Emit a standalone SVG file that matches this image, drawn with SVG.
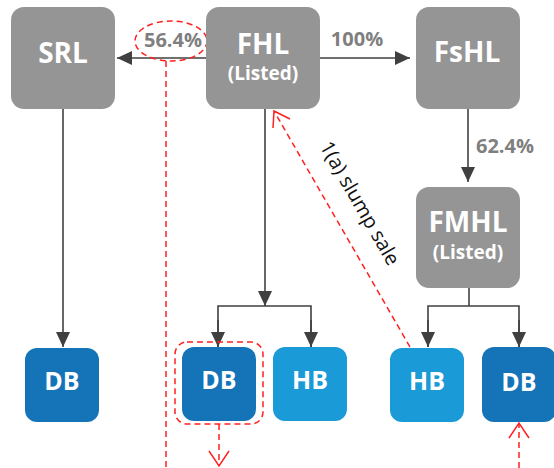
<svg xmlns="http://www.w3.org/2000/svg" width="554" height="468" viewBox="0 0 554 468">
<style>
.g{fill:#959595}
.db{fill:#1574b8}
.hb{fill:#1a9ad6}
.t{font-family:"Open Sans","Noto Sans",sans-serif;font-weight:bold;fill:#fff;text-anchor:middle}
.big{font-size:28px}
.sm{font-size:19px}
.box{font-size:25px}
.pct{font-family:"Open Sans","Noto Sans",sans-serif;font-weight:bold;fill:#7f7f7f;font-size:20px;text-anchor:middle}
.ln{stroke:#404040;stroke-width:1.6;fill:none}
.rd{stroke:#ff2020;stroke-width:1.5;fill:none;stroke-dasharray:6 4}
.ra{stroke:#ff2020;stroke-width:1.5;fill:none}
</style>
<defs>
<marker id="ah" markerWidth="16" markerHeight="14" refX="15" refY="7" orient="auto" markerUnits="userSpaceOnUse">
<path d="M0,0 L15,7 L0,14 Z" fill="#404040"/>
</marker>
</defs>
<g id="connectors">
<line class="ln" x1="206" y1="58" x2="117" y2="58" marker-end="url(#ah)"/>
<line class="ln" x1="320" y1="58" x2="410" y2="58" marker-end="url(#ah)"/>
<line class="ln" x1="468" y1="109" x2="468" y2="182" marker-end="url(#ah)"/>
<line class="ln" x1="63" y1="109" x2="63" y2="347" marker-end="url(#ah)"/>
<line class="ln" x1="265" y1="109" x2="265" y2="306" marker-end="url(#ah)"/>
<polyline class="ln" points="218,347 218,306 311,306 311,347"/>
<line class="ln" x1="218" y1="320" x2="218" y2="347" marker-end="url(#ah)"/>
<line class="ln" x1="311" y1="320" x2="311" y2="347" marker-end="url(#ah)"/>
<line class="ln" x1="469" y1="288" x2="469" y2="306"/>
<polyline class="ln" points="428,347 428,306 519,306 519,347"/>
<line class="ln" x1="428" y1="320" x2="428" y2="347" marker-end="url(#ah)"/>
<line class="ln" x1="519" y1="320" x2="519" y2="347" marker-end="url(#ah)"/>
<text class="pct" x="357" y="46">100%</text>
<text class="pct" x="173" y="47">56.4%</text>
<text class="pct" x="505" y="153">62.4%</text>
</g>
<g id="annotations">
<ellipse class="rd" cx="171" cy="41" rx="36" ry="20"/>
<line class="rd" x1="166" y1="61" x2="166" y2="468"/>
<line class="rd" x1="410" y1="347" x2="274" y2="111"/>
<polyline class="ra" points="273,128 274,111 290,119"/>
<text x="0" y="0" transform="translate(353,207) rotate(60.1)" font-family="'Open Sans','Noto Sans',sans-serif" font-size="20" fill="#111" text-anchor="middle" dy="-1">1(a) slump sale</text>
<rect class="rd" x="175" y="342" width="88" height="82" rx="12"/>
<line class="rd" x1="219" y1="424" x2="219" y2="465"/>
<polyline class="ra" points="209,451 219,466 229,451"/>
<line class="rd" x1="519" y1="468" x2="519" y2="424"/>
<polyline class="ra" points="509,438 519,423 529,438"/>
</g>
<g id="SRL"><rect class="g" x="11" y="7" width="104" height="102" rx="13"/><text class="t big" x="63" y="63">SRL</text></g>
<g id="FHL"><rect class="g" x="206" y="7" width="114" height="102" rx="13"/><text class="t big" x="263" y="54">FHL</text><text class="t sm" x="263" y="80">(Listed)</text></g>
<g id="FsHL"><rect class="g" x="416" y="7" width="104" height="102" rx="13"/><text class="t big" x="467" y="62">FsHL</text></g>
<g id="FMHL"><rect class="g" x="416" y="187" width="104" height="101" rx="13"/><text class="t big" x="468" y="232">FMHL</text><text class="t sm" x="468" y="259">(Listed)</text></g>
<g id="DB1"><rect class="db" x="25" y="348" width="74" height="74" rx="12"/><text class="t box" x="62" y="390">DB</text></g>
<g id="DB2"><rect class="db" x="182" y="347" width="74" height="74" rx="12"/><text class="t box" x="219" y="389">DB</text></g>
<g id="HB1"><rect class="hb" x="273" y="347" width="74" height="74" rx="12"/><text class="t box" x="310" y="389">HB</text></g>
<g id="HB2"><rect class="hb" x="390" y="348" width="74" height="74" rx="12"/><text class="t box" x="427" y="390">HB</text></g>
<g id="DB3"><rect class="db" x="482" y="347" width="74" height="75" rx="12"/><text class="t box" x="519" y="391">DB</text></g>
</svg>
